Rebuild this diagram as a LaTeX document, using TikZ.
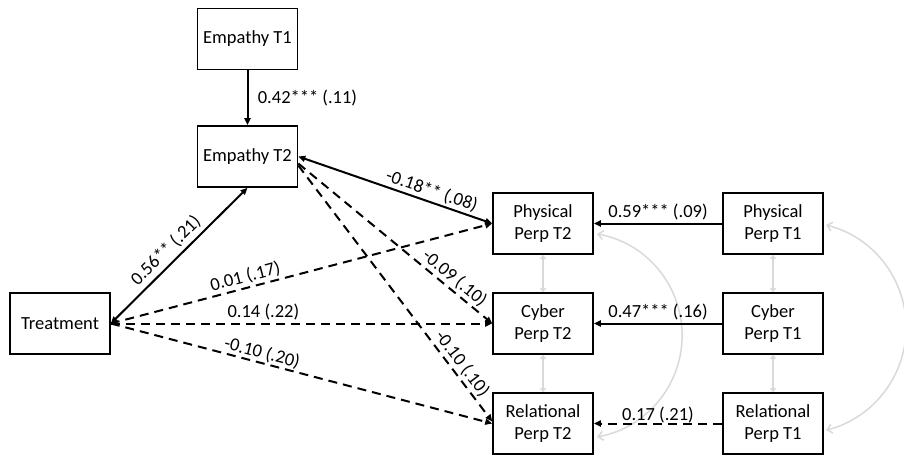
\documentclass[tikz,border=0pt]{standalone}
\usepackage{fontspec}
\setmainfont{Carlito}
\usetikzlibrary{arrows.meta}
\begin{document}
\begin{tikzpicture}[x=1pt,y=1pt,
  txt/.style={font=\fontsize{18.5}{22}\selectfont},
  box/.style={draw, line width=1.6pt, minimum width=100pt, minimum height=61pt, inner sep=0pt, align=center, txt},
  arrowline/.style={line width=2pt, -{Triangle[length=7pt,width=6pt]}},
  biline/.style={line width=2pt, {Triangle[length=7pt,width=6pt]}-{Triangle[length=7pt,width=6pt]}},
  dashline/.style={arrowline, dash pattern=on 9pt off 6pt},
  lab/.style={txt, inner sep=2pt, sloped, above},
  cov/.style={draw=black!15, line width=1.5pt, {Straight Barb[length=5pt,width=9pt]}-{Straight Barb[length=5pt,width=9pt]}},
  vcov/.style={draw=black!15, line width=1.4pt, {Straight Barb[length=3pt,width=5pt]}-{Straight Barb[length=3pt,width=5pt]}}
]
\useasboundingbox (0,0) rectangle (904,-456);

\node[box] (emp1) at (247.5,-39) {Empathy T1};
\node[box] (emp2) at (247.5,-156.5) {Empathy T2};
\node[box] (treat) at (60,-323.5) {Treatment};
\node[box] (phys2) at (543,-223.5) {Physical\\Perp T2};
\node[box] (cyb2) at (543,-323.5) {Cyber\\Perp T2};
\node[box] (rel2) at (543,-423.5) {Relational\\Perp T2};
\node[box] (phys1) at (773,-223.5) {Physical\\Perp T1};
\node[box] (cyb1) at (773,-323.5) {Cyber\\Perp T1};
\node[box] (rel1) at (773,-423.5) {Relational\\Perp T1};

% covariances
\draw[vcov] (phys2.south) -- (cyb2.north);
\draw[vcov] (cyb2.south) -- (rel2.north);
\draw[vcov] (phys1.south) -- (cyb1.north);
\draw[vcov] (cyb1.south) -- (rel1.north);
\coordinate (a2s) at (597,-234);
\coordinate (a1s) at (826,-225);
\draw[cov] (a2s) arc[start angle=80, end angle=-80, radius=103];
\draw[cov] (a1s) arc[start angle=76, end angle=-76, radius=105.7];

% paths
\draw[arrowline] (emp1.south) -- node[txt, right=6pt] {0.42*** (.11)} (emp2.north);
\draw[biline] (treat.east) -- node[lab, pos=0.47, yshift=2pt] {0.56** (.21)} (emp2.south);
\draw[dashline] (treat.east) -- node[lab, pos=0.36] {0.01 (.17)} (phys2.west);
\draw[dashline] (treat.east) -- node[lab, pos=0.40] {0.14 (.22)} (cyb2.west);
\draw[dashline] (treat.east) -- node[lab, pos=0.39, yshift=-1pt] {-0.10 (.20)} (rel2.west);
\draw[biline] (emp2.east) -- node[lab, pos=0.67] {-0.18** (.08)} (phys2.west);
\draw[dashline] ([yshift=-7pt]emp2.east) -- node[lab, pos=0.77] {-0.09 (.10)} (cyb2.west);
\draw[dashline] ([yshift=-9pt]emp2.east) -- node[lab, pos=0.80] {-0.10 (.10)} ([yshift=2pt]rel2.west);
\draw[arrowline] (phys1.west) -- node[lab] {0.59*** (.09)} (phys2.east);
\draw[arrowline] (cyb1.west) -- node[lab] {0.47*** (.16)} (cyb2.east);
\draw[dashline] (rel1.west) -- node[lab, yshift=-3pt] {0.17 (.21)} (rel2.east);
\end{tikzpicture}
\end{document}
